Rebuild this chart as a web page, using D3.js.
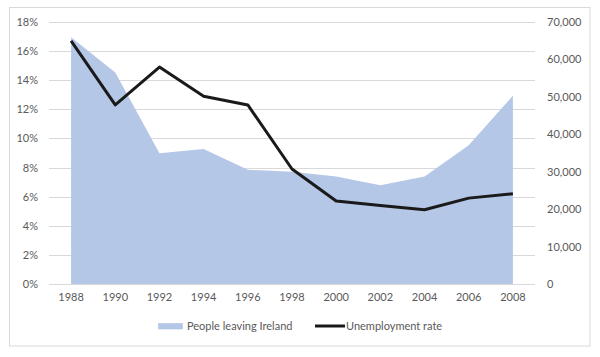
<!DOCTYPE html>
<html><head><meta charset="utf-8">
<script src="https://cdn.jsdelivr.net/npm/d3@7"></script>
<style>body{margin:0;background:#fff}svg{display:block}text{font-family:Lato,"Open Sans",sans-serif;fill:#595959}</style>
</head><body><svg id="c" width="600" height="357"></svg>
<script>
const years = ["1988","1990","1992","1994","1996","1998","2000","2002","2004","2006","2008"];
const peopleLeaving = [65900, 56500, 34900, 36100, 30500, 30000, 28700, 26400, 28700, 37100, 50300];
const unemployment = [16.7, 12.3, 14.9, 12.9, 12.3, 7.9, 5.7, 5.4, 5.1, 5.9, 6.2];
const leftTicks = [0,2,4,6,8,10,12,14,16,18];
const rightTicks = [0,10000,20000,30000,40000,50000,60000,70000];
const seriesNames = ["People leaving Ireland","Unemployment rate"];

const svg = d3.select("#c");
svg.append("rect").attr("x",9.5).attr("y",7.5).attr("width",580.5).attr("height",338.5).attr("fill","#fff").attr("stroke","#d9d9d9");

const L=49, R=535, T=22, B=284;
const x = d3.scaleBand().domain(years).range([L,R]);
const xc = d => x(d)+x.bandwidth()/2;
const yL = d3.scaleLinear().domain([0,18]).range([B,T]);
const yR = d3.scaleLinear().domain([0,70000]).range([B,T]);

// gridlines
svg.append("g").selectAll("line").data(leftTicks.filter(d=>d>0)).join("line")
 .attr("x1",L).attr("x2",R).attr("y1",d=>Math.round(yL(d))+0.5).attr("y2",d=>Math.round(yL(d))+0.5)
 .attr("stroke","#d9d9d9").attr("stroke-width",1);

// area
const area = d3.area().x((d,i)=>xc(years[i])).y0(B).y1(d=>yR(d));
svg.append("path").datum(peopleLeaving).attr("d",area).attr("fill","#b4c7e7");

// baseline
svg.append("line").attr("x1",L).attr("x2",R).attr("y1",B+0.5).attr("y2",B+0.5).attr("stroke","#d9d9d9");

// line
const line = d3.line().x((d,i)=>xc(years[i])).y(d=>yL(d));
svg.append("path").datum(unemployment).attr("d",line).attr("fill","none").attr("stroke","#1a1a1a").attr("stroke-width",3).attr("stroke-linejoin","round");

// left axis labels
const axL = d3.axisLeft(yL).tickValues(leftTicks).tickFormat(d=>d+"%").tickSize(0).tickPadding(0);
const gL = svg.append("g").attr("transform",`translate(38,0)`).call(axL);
gL.select(".domain").remove();
gL.selectAll("text").attr("font-size",11).style("font-family","Lato,sans-serif").attr("fill","#595959");

// right axis labels
const axR = d3.axisRight(yR).tickValues(rightTicks).tickFormat(d3.format(",")).tickSize(0).tickPadding(0);
const gR = svg.append("g").attr("transform",`translate(547,0)`).call(axR);
gR.select(".domain").remove();
gR.selectAll("text").attr("font-size",11).style("font-family","Lato,sans-serif").attr("fill","#595959");

// bottom axis
const axB = d3.axisBottom(x).tickSize(0).tickPadding(0);
const gB = svg.append("g").attr("transform",`translate(0,${B+9})`).call(axB);
gB.select(".domain").remove();
gB.selectAll("text").attr("font-size",11).style("font-family","Lato,sans-serif").attr("fill","#595959");

// legend
const lg = svg.append("g");
lg.append("rect").attr("x",158.5).attr("y",323.5).attr("width",24).attr("height",5.5).attr("fill","#b4c7e7").attr("stroke","#a9bde0").attr("stroke-width",0.5);
lg.append("text").attr("x",187).attr("y",326).attr("dy","0.35em").attr("font-size",11).text(seriesNames[0]);
lg.append("line").attr("x1",315).attr("x2",345).attr("y1",326).attr("y2",326).attr("stroke","#1a1a1a").attr("stroke-width",3);
lg.append("text").attr("x",346).attr("y",326).attr("dy","0.35em").attr("font-size",11).text(seriesNames[1]);
</script></body></html>
